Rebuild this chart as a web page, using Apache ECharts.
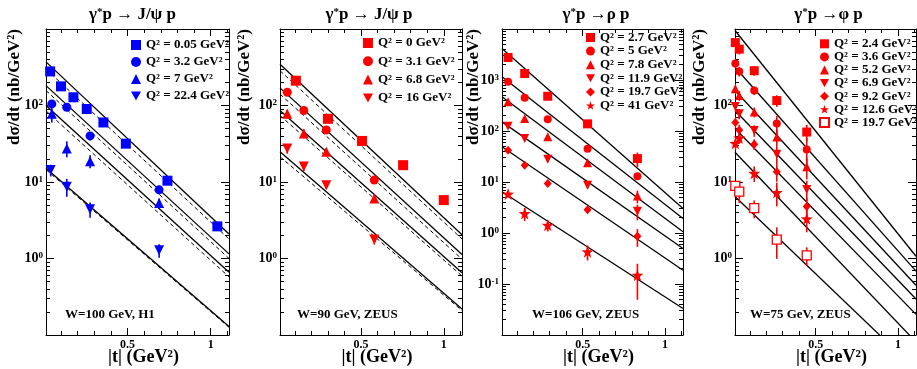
<!DOCTYPE html>
<html><head><meta charset="utf-8">
<script src="https://cdn.jsdelivr.net/npm/echarts@6/dist/echarts.min.js"></script>
<style>html,body{margin:0;padding:0;background:#fff}#c{width:917px;height:369px}</style>
</head><body><div id="c"></div>
<script>
const FONT = '"Liberation Serif","Times New Roman",serif';

// ---------- Panel 1 : γ*p → J/ψ p , H1, W=100 GeV ----------
const p1Names = ['Q² = 0.05 GeV²','Q² = 3.2 GeV²','Q² = 7 GeV²','Q² = 22.4 GeV²'];
const p1T = [[0.035,0.10,0.175,0.255,0.355,0.49,0.74,1.04],[0.045,0.135,0.275,0.69],[0.045,0.135,0.275,0.69],[0.038,0.135,0.275,0.69]];
const p1Y = [[279,178,128,90,60,31.7,10.4,2.63],[105,95,40,7.9],[78,27.5,18.7,5.3],[14.3,8.7,4.4,1.28]];
const p1Err = [[15,10,7,5,3,2,0.8,0.3],[12,10,5,1.0],[18,6.5,3.6,0.8],[2.5,2.3,1.0,0.26]];
const p1Solid = [[372,2.09],[182,1.15],[100,0.66],[15.1,0.129]];
const p1Dash = [[299,1.80],[157,1.0],[85,0.575],[14.5,0.126]];

// ---------- Panel 2 : γ*p → J/ψ p , ZEUS, W=90 GeV ----------
const p2Names = ['Q² = 0 GeV²','Q² = 3.1 GeV²','Q² = 6.8 GeV²','Q² = 16 GeV²'];
const p2T = [[0.106,0.30,0.506,0.754,1.0],[0.054,0.154,0.29,0.58],[0.054,0.154,0.29,0.58],[0.054,0.154,0.29,0.58]];
const p2Y = [[211,67,34.4,16.6,5.8],[149,86,48,10.6],[78,42.9,24.8,6.1],[27.4,15.9,9.1,1.77]];
const p2Err = [[10,5,3,1.5,0.6],[15,8,4,1.0],[10,6,3,0.8],[4,2,1,0.25]];
const p2Solid = [[347,2.05],[170,1.13],[86,0.65],[24.8,0.219]];
const p2Dash = [[285,1.80],[141,0.98],[74,0.59],[21.4,0.209]];

// ---------- Panel 3 : γ*p → ρ p , ZEUS, W=106 GeV ----------
const p3Names = ['Q² = 2.7 GeV²','Q² = 5 GeV²','Q² = 7.8 GeV²','Q² = 11.9 GeV²','Q² = 19.7 GeV²','Q² = 41 GeV²'];
const p3Tcol = [0.047,0.148,0.288,0.53,0.833];
const p3Y = [[2760,1340,480,138,28.8],[922,447,170,45,13],[374,176,77,23.8,5.3],[124,71,28,8.65,2.67],[42,21.4,9.3,2.85,0.865],[5.8,2.41,1.42,0.43,0.149]];
const p3Err = [[150,80,30,12,9],[60,30,12,4,2],[25,12,6,3,1.5],[10,6,3,1.2,0.9],[3.5,2,1,0.4,0.33],[0.8,0.7,0.35,0.14,0.1]];
const p3Solid = [[4150,3.02],[1156,1.92],[468,1.06],[151,0.497],[49,0.186],[6.46,0.033]];

// ---------- Panel 4 : γ*p → φ p , ZEUS, W=75 GeV ----------
const p4Names = ['Q² = 2.4 GeV²','Q² = 3.6 GeV²','Q² = 5.2 GeV²','Q² = 6.9 GeV²','Q² = 9.2 GeV²','Q² = 12.6 GeV²','Q² = 19.7 GeV²'];
const p4Tcol = [0.012,0.036,0.127,0.264,0.446];
const p4Y = [[664,545,285,116,45],[355,279,157,58,26.6],[165,135,82,38.8,15.8],[97,78,47,23,8.0],[60,48,31.2,13.6,4.8],[32,37.6,13,7.3,3.3],[8.9,7.5,4.55,1.77,1.1]];
const p4Err = [[100,80,40,20,11],[50,40,20,15,11],[25,20,12,10,5],[15,12,8,6,2.4],[10,8,5,3.5,1.4],[6,6,3,2.5,1.1],[1.5,2.2,1.2,0.78,0.3]];
const p4Solid = [[955,1.07],[316,0.684],[157,0.447],[86,0.295],[50,0.186],[24.5,0.081],[6.46,0.035]];

// axis / curve support values
const LINE_T = [0.01, 1.11];
const X_MAJOR = [0.5, 1.0];
const X_MINOR = [0.1,0.2,0.3,0.4,0.6,0.7,0.8,0.9,1.1];
const X_LABELS = [0.5, 1];

const STAR = 'path://M0,-10L2.35,-3.24L9.51,-3.09L3.8,1.24L5.88,8.09L0,4L-5.88,8.09L-3.8,1.24L-9.51,-3.09L-2.35,-3.24Z';
const TRI_DOWN = 'path://M0,0L10,0L5,9Z';
const MARK = {
  sq:{symbol:'rect',size:10}, ci:{symbol:'circle',size:9}, tu:{symbol:'triangle',size:10},
  td:{symbol:TRI_DOWN,size:10}, di:{symbol:'diamond',size:[9,10]}, st:{symbol:STAR,size:13},
  os:{symbol:'rect',size:10,open:true}
};

const panels = [
  {names:p1Names,T:p1T,Y:p1Y,E:p1Err,solid:p1Solid,dash:p1Dash,color:'#0000ff',ymin:0.1,ymax:1000,labels:[1,10,100],
   marks:['sq','ci','tu','td'],grid:{left:46,width:183},
   title:'{g|γ}{s|*}{g|p → J/ψ p}',titleX:132.5,ytitleX:15,wlabel:'W=100 GeV, H1',wX:65,
   leg:{left:131,top:38,gap:3,lh:14,icon:10}},
  {names:p2Names,T:p2T,Y:p2Y,E:p2Err,solid:p2Solid,dash:p2Dash,color:'#ff0000',ymin:0.1,ymax:1000,labels:[1,10,100],
   marks:['sq','ci','tu','td'],grid:{left:280,width:182},
   title:'{g|γ}{s|*}{g|p → J/ψ p}',titleX:369,ytitleX:245,wlabel:'W=90 GeV, ZEUS',wX:297,
   leg:{left:363,top:36,gap:4.3,lh:14,icon:10}},
  {names:p3Names,T:p3Y.map(()=>p3Tcol),Y:p3Y,E:p3Err,solid:p3Solid,dash:null,color:'#ff0000',ymin:0.01,ymax:10000,labels:[0.1,1,10,100,1000],
   marks:['sq','ci','tu','td','di','st'],grid:{left:502,width:181},
   title:'{g|γ}{s|*}{g|p →ρ p}',titleX:596,ytitleX:474,wlabel:'W=106 GeV, ZEUS',wX:532,
   leg:{left:586,top:31,gap:0.6,lh:12,icon:9}},
  {names:p4Names,T:p4Y.map(()=>p4Tcol),Y:p4Y,E:p4Err,solid:p4Solid,dash:null,color:'#ff0000',ymin:0.1,ymax:1000,labels:[1,10,100],
   marks:['sq','ci','tu','td','di','st','os'],grid:{left:735,width:181},
   title:'{g|γ}{s|*}{g|p →φ p}',titleX:828.5,ytitleX:700,wlabel:'W=75 GeV, ZEUS',wX:750,
   leg:{left:819,top:37.3,gap:0.1,lh:12,icon:9}}
];

const GRID_TOP = 29, GRID_H = 306;
function decadeList(a,b){const r=[];for(let e=Math.round(Math.log10(a));e<=Math.round(Math.log10(b));e++)r.push(Math.pow(10,e));return r;}
function minorList(a,b){const r=[];for(let e=Math.round(Math.log10(a));e<Math.round(Math.log10(b));e++)for(let k=2;k<=9;k++)r.push(k*Math.pow(10,e));return r;}

const grid=[], xAxis=[], yAxis=[], series=[], legend=[], graphic=[];
const black = {color:'#000',width:1};
const nameMap = {};

panels.forEach((P,p)=>{
  grid.push({left:P.grid.left,width:P.grid.width,top:GRID_TOP,height:GRID_H,containLabel:false});
  const xb = {type:'value',gridIndex:p,min:LINE_T[0],max:LINE_T[1],splitLine:{show:false},axisLine:{show:true,onZero:false,lineStyle:black}};
  xAxis.push({...xb,position:'bottom',axisTick:{show:true,inside:true,length:7,customValues:X_MAJOR,lineStyle:black},
    axisLabel:{show:true,customValues:X_LABELS,margin:4,fontFamily:FONT,fontWeight:'bold',fontSize:12,color:'#000',formatter:v=>String(v)}});
  xAxis.push({...xb,position:'bottom',axisLine:{show:false},axisTick:{show:true,inside:true,length:4,customValues:X_MINOR,lineStyle:black},axisLabel:{show:false}});
  xAxis.push({...xb,position:'top',axisTick:{show:true,inside:true,length:7,customValues:X_MAJOR,lineStyle:black},axisLabel:{show:false}});
  xAxis.push({...xb,position:'top',axisLine:{show:false},axisTick:{show:true,inside:true,length:4,customValues:X_MINOR,lineStyle:black},axisLabel:{show:false}});

  const dec = decadeList(P.ymin,P.ymax), mins = minorList(P.ymin,P.ymax);
  const yb = {type:'log',logBase:10,gridIndex:p,min:P.ymin,max:P.ymax,splitLine:{show:false},axisLine:{show:true,onZero:false,lineStyle:black}};
  yAxis.push({...yb,position:'left',axisTick:{show:true,inside:true,length:8,customValues:dec,lineStyle:black},
    axisLabel:{show:true,customValues:P.labels,margin:3,formatter:v=>'{b|10}{s|'+Math.round(Math.log10(v))+'}',
      rich:{b:{fontFamily:FONT,fontWeight:'bold',fontSize:14,color:'#000'},s:{fontFamily:FONT,fontWeight:'bold',fontSize:9,color:'#000',verticalAlign:'top'}}}});
  yAxis.push({...yb,position:'left',axisLine:{show:false},axisTick:{show:true,inside:true,length:4,customValues:mins,lineStyle:black},axisLabel:{show:false}});
  yAxis.push({...yb,position:'right',axisTick:{show:true,inside:true,length:8,customValues:dec,lineStyle:black},axisLabel:{show:false}});
  yAxis.push({...yb,position:'right',axisLine:{show:false},axisTick:{show:true,inside:true,length:4,customValues:mins,lineStyle:black},axisLabel:{show:false}});

  const xi = 4*p, yi = 4*p;
  P.solid.forEach((v,i)=>series.push({type:'line',name:'sol'+p+'_'+i,xAxisIndex:xi,yAxisIndex:yi,data:[[LINE_T[0],v[0]],[LINE_T[1],v[1]]],
    symbol:'none',lineStyle:{color:'#000',width:1.3},clip:true,silent:true,z:2}));
  if(P.dash) P.dash.forEach((v,i)=>series.push({type:'line',name:'dsh'+p+'_'+i,xAxisIndex:xi,yAxisIndex:yi,data:[[LINE_T[0],v[0]],[LINE_T[1],v[1]]],
    symbol:'none',lineStyle:{color:'#000',width:1,type:[4,3]},clip:true,silent:true,z:2}));

  const legNames=[];
  P.names.forEach((nm,i)=>{
    const id='p'+p+'s'+i; nameMap[id]=nm; legNames.push(id);
    series.push({type:'custom',name:'err'+p+'_'+i,xAxisIndex:xi,yAxisIndex:yi,silent:true,z:3,clip:true,
      data:P.T[i].map((t,k)=>[t,P.Y[i][k],P.E[i][k]]),
      renderItem:(params,api)=>{
        const t=api.value(0),y=api.value(1),e=api.value(2);
        const a=api.coord([t,Math.max(y-e,1e-4)]), b=api.coord([t,y+e]);
        return {type:'line',shape:{x1:a[0],y1:a[1],x2:b[0],y2:b[1]},style:{stroke:P.color,lineWidth:1.6}};
      }});
    const m = MARK[P.marks[i]];
    let size = m.size;
    if(p>=2){ size = Array.isArray(size)? size.map(s=>s-1) : size-1; }
    series.push({type:'scatter',name:id,xAxisIndex:xi,yAxisIndex:yi,z:4,
      data:P.T[i].map((t,k)=>[t,P.Y[i][k]]),
      symbol:m.symbol,symbolSize:size,
      itemStyle: m.open?{color:'#fff',borderColor:P.color,borderWidth:1.3,opacity:1}:{color:P.color,opacity:1}});
  });
  legend.push({data:legNames,formatter:n=>nameMap[n],orient:'vertical',left:P.leg.left,top:P.leg.top,itemGap:P.leg.gap,
    itemWidth:P.leg.icon,itemHeight:P.leg.icon,padding:0,selectedMode:false,
    textStyle:{fontFamily:FONT,fontWeight:'bold',fontSize:13,color:'#000',lineHeight:P.leg.lh}});

  const cx = P.grid.left + P.grid.width/2;
  graphic.push({type:'text',x:P.titleX,y:15,style:{text:P.title,align:'center',verticalAlign:'middle',
    rich:{g:{fontFamily:FONT,fontWeight:'bold',fontSize:17,fill:'#000'},s:{fontFamily:FONT,fontWeight:'bold',fontSize:11,fill:'#000',verticalAlign:'top'}}}});
  graphic.push({type:'text',x:P.ytitleX,y:29,rotation:Math.PI/2,style:{text:'dσ/dt (nb/GeV²)',align:'right',verticalAlign:'middle',
    font:'bold 17px '+FONT,fill:'#000'}});
  graphic.push({type:'text',x:cx+6,y:357,style:{text:'|t| (GeV²)',align:'center',verticalAlign:'middle',font:'bold 18px '+FONT,fill:'#000'}});
  graphic.push({type:'text',x:P.wX,y:315,style:{text:P.wlabel,align:'left',verticalAlign:'middle',font:'bold 13px '+FONT,fill:'#000'}});
});

const chart = echarts.init(document.getElementById('c'),null,{renderer:'canvas'});
chart.setOption({backgroundColor:'#fff',animation:false,grid,xAxis,yAxis,series,legend,graphic});
</script></body></html>
